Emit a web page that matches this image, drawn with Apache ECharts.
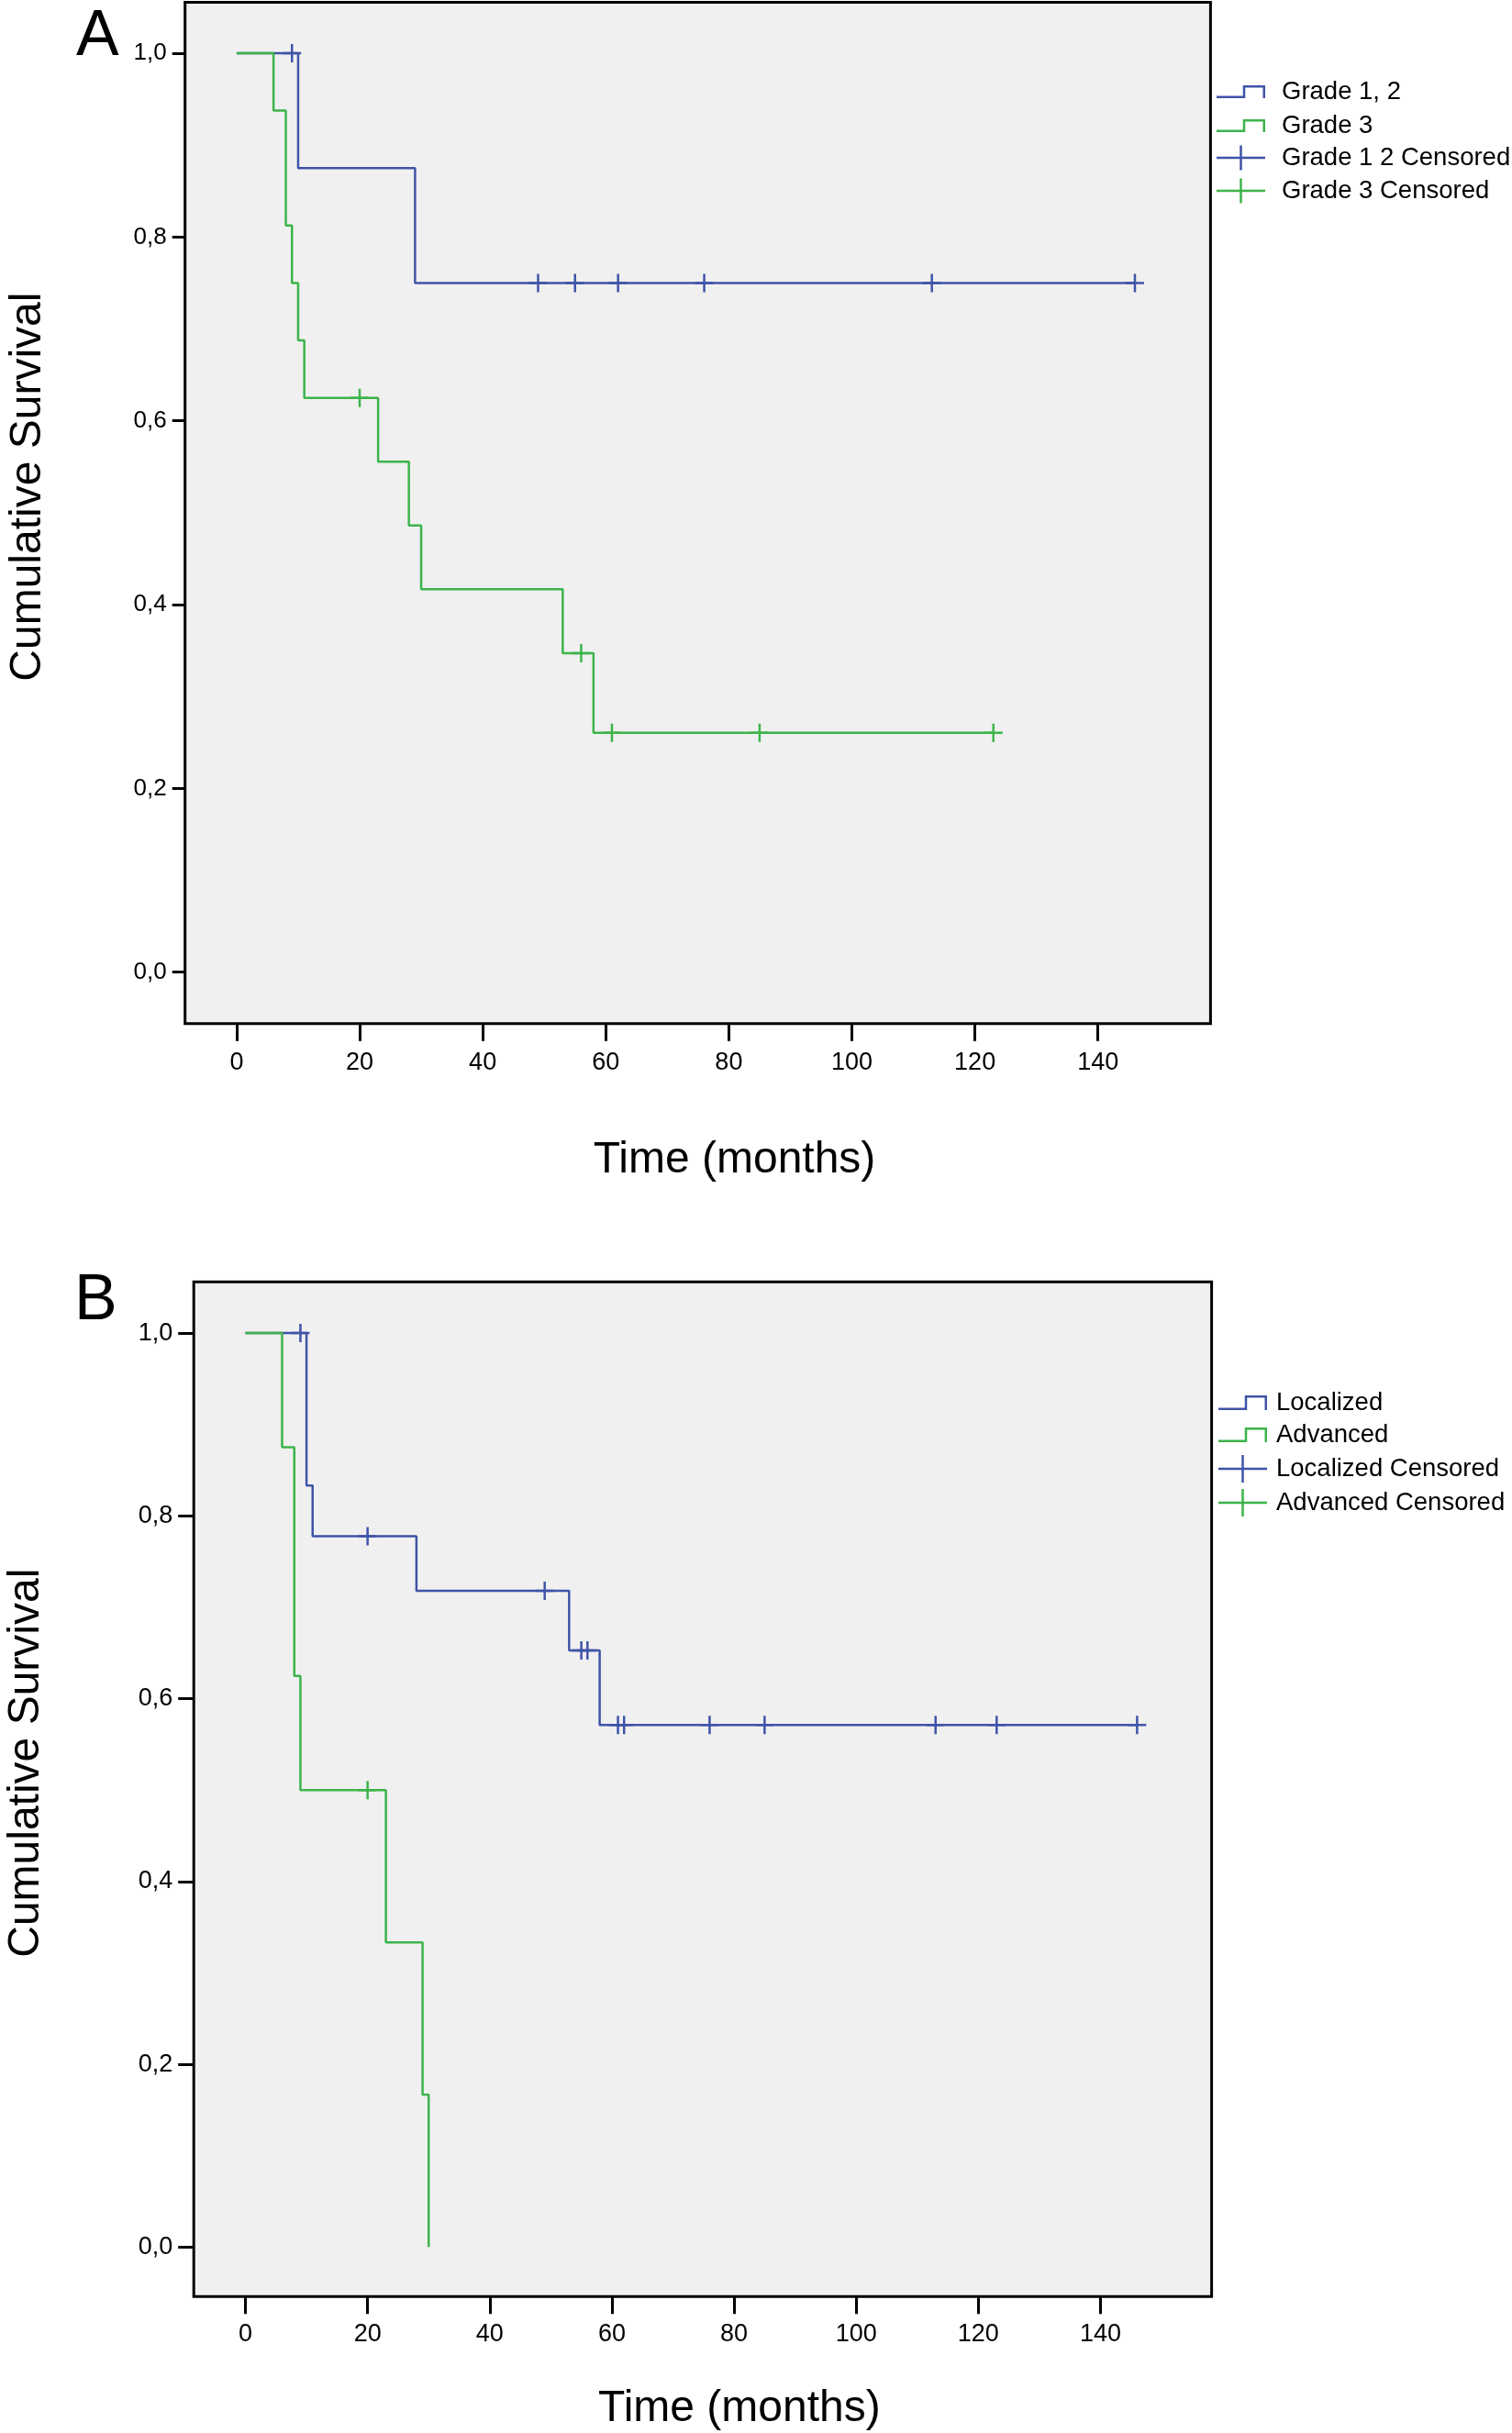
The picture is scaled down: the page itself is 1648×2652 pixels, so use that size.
<!DOCTYPE html>
<html>
<head>
<meta charset="utf-8">
<script src="https://cdn.jsdelivr.net/npm/echarts@6/dist/echarts.min.js"></script>
<style>
html,body{margin:0;padding:0;background:#fff;}
#chart{width:1648px;height:2652px;}
</style>
</head>
<body>
<div id="chart"></div>
<script>
// ---------- data ----------
const xTicks = [0, 20, 40, 60, 80, 100, 120, 140];
const yTicks = [0, 0.2, 0.4, 0.6, 0.8, 1.0];

// Panel A - Grade 1, 2
const g12Time = [0, 10, 29, 146];
const g12Surv = [1.0, 0.875, 0.75, 0.75];
const g12CensTime = [9, 49, 55, 62, 76, 113, 146];
const g12CensSurv = [1.0, 0.75, 0.75, 0.75, 0.75, 0.75, 0.75];
// Panel A - Grade 3
const g3Time = [0, 6, 8, 9, 10, 11, 23, 28, 30, 53, 58, 123];
const g3Surv = [1.0, 0.9375, 0.8125, 0.75, 0.6875, 0.625, 0.5556, 0.4861, 0.4167, 0.3472, 0.2604, 0.2604];
const g3CensTime = [20, 56, 61, 85, 123];
const g3CensSurv = [0.625, 0.3472, 0.2604, 0.2604, 0.2604];

// Panel B - Localized
const locTime = [0, 10, 11, 28, 53, 58, 146];
const locSurv = [1.0, 0.8333, 0.7778, 0.7179, 0.6527, 0.5711, 0.5711];
const locCensTime = [9, 20, 49, 55, 56, 61, 62, 76, 85, 113, 123, 146];
const locCensSurv = [1.0, 0.7778, 0.7179, 0.6527, 0.6527, 0.5711, 0.5711, 0.5711, 0.5711, 0.5711, 0.5711, 0.5711];
// Panel B - Advanced
const advTime = [0, 6, 8, 9, 23, 29, 30];
const advSurv = [1.0, 0.875, 0.625, 0.5, 0.3333, 0.1667, 0.0];
const advCensTime = [20];
const advCensSurv = [0.5];

// ---------- styling ----------
const BLUE = '#3F54A8';
const GREEN = '#3CB44A';
const FONT = '"Liberation Sans", Arial, Helvetica, sans-serif';
const PLUS = 'path://M0,8.75H20V11.25H0Z M8.75,0H11.25V20H8.75Z';
const CROSS_A = 'path://M0,12.25H53V14.75H0Z M25.25,0H27.75V27H25.25Z';
const CROSS_B = 'path://M0,13.75H53V16.25H0Z M25.25,0H27.75V30H25.25Z';
const STEP_A = 'path://M0,11.5H28.75V0H53V14H50.5V2.5H31.25V14H0Z';
const STEP_B = 'path://M0,13.5H28.75V0H53V16H50.5V2.5H31.25V16H0Z';

const zip = (a, b) => a.map((v, i) => [v, b[i]]);
const fmtY = v => v.toFixed(1).replace('.', ',');

function xAxisCfg(idx, o) {
  return {
    gridIndex: idx, type: 'value', min: o.min, max: o.max,
    axisLine: { show: false, onZero: false },
    axisTick: { show: true, inside: false, length: o.tickLen, customValues: xTicks,
                lineStyle: { color: '#000', width: 3 } },
    axisLabel: { show: true, customValues: xTicks, fontSize: 27, color: '#000',
                 fontFamily: FONT, margin: o.labelMargin },
    splitLine: { show: false },
    name: 'Time (months)', nameLocation: 'middle', nameGap: o.nameGap, nameMoveOverlap: false,
    nameTextStyle: { fontSize: 48, lineHeight: 48, color: '#000', fontFamily: FONT,
                     padding: [0, 0, 0, 80] }
  };
}
function yAxisCfg(idx, o) {
  return {
    gridIndex: idx, type: 'value', min: o.min, max: o.max,
    axisLine: { show: false, onZero: false },
    axisTick: { show: true, inside: false, length: o.tickLen, customValues: yTicks,
                lineStyle: { color: '#000', width: 3 } },
    axisLabel: { show: true, customValues: yTicks, formatter: fmtY, fontSize: o.labelSize,
                 color: '#000', fontFamily: FONT, margin: o.labelMargin },
    splitLine: { show: false },
    name: 'Cumulative Survival', nameLocation: 'middle', nameGap: o.nameGap, nameMoveOverlap: false,
    nameTextStyle: { fontSize: 48, lineHeight: 48, color: '#000', fontFamily: FONT,
                     padding: [0, 0, 0, 57] }
  };
}
function lineSeries(name, idx, t, s, color) {
  return {
    name, type: 'line', xAxisIndex: idx, yAxisIndex: idx, step: 'end',
    data: zip(t, s), symbol: 'none', showSymbol: false, silent: true,
    lineStyle: { color, width: 2.5 }, itemStyle: { color }, emphasis: { disabled: true }
  };
}
function censSeries(name, idx, t, s, color) {
  return {
    name, type: 'scatter', xAxisIndex: idx, yAxisIndex: idx,
    data: zip(t, s), symbol: PLUS, symbolSize: 20, silent: true,
    itemStyle: { color, opacity: 1 }, emphasis: { disabled: true }
  };
}
function legendCfg(items, o) {
  return {
    orient: 'vertical', left: o.left, top: o.top, padding: 0,
    itemWidth: 53, itemHeight: o.itemHeight, itemGap: o.gap, selectedMode: false,
    textStyle: { fontSize: 27.5, lineHeight: 30, color: '#000', fontFamily: FONT,
                 padding: [0, 0, 0, o.textPad] },
    data: items.map(it => ({ name: it[0], icon: it[1],
                             itemStyle: { color: it[2], borderWidth: 0, opacity: 1 } }))
  };
}

const chart = echarts.init(document.getElementById('chart'), null, { renderer: 'canvas' });
chart.setOption({
  animation: false,
  backgroundColor: '#ffffff',
  grid: [
    { left: 201.7, top: 2.5, width: 1117.7, height: 1113.2, show: true,
      backgroundColor: '#f0f0f0', borderColor: '#000', borderWidth: 3,
      containLabel: false, outerBoundsMode: 'none' },
    { left: 211.2, top: 1397.2, width: 1109.4, height: 1106, show: true,
      backgroundColor: '#f0f0f0', borderColor: '#000', borderWidth: 3,
      containLabel: false, outerBoundsMode: 'none' }
  ],
  xAxis: [
    xAxisCfg(0, { min: -8.38, max: 158.29, tickLen: 19, labelMargin: 29, nameGap: 125 }),
    xAxisCfg(1, { min: -8.46, max: 158.2, tickLen: 19, labelMargin: 28, nameGap: 99 })
  ],
  yAxis: [
    yAxisCfg(0, { min: -0.0559, max: 1.0554, tickLen: 14, labelSize: 26, labelMargin: 20, nameGap: 147 }),
    yAxisCfg(1, { min: -0.0541, max: 1.0561, tickLen: 17, labelSize: 27, labelMargin: 23, nameGap: 158.5 })
  ],
  legend: [
    legendCfg([['Grade 1, 2', STEP_A, BLUE], ['Grade 3', STEP_A, GREEN]],
              { left: 1326, top: 85, itemHeight: 14, gap: 7, textPad: 13 }),
    legendCfg([['Grade 1 2 Censored', CROSS_A, BLUE], ['Grade 3 Censored', CROSS_A, GREEN]],
              { left: 1326, top: 157, itemHeight: 27, gap: 6, textPad: 13 }),
    legendCfg([['Localized', STEP_B, BLUE], ['Advanced', STEP_B, GREEN]],
              { left: 1328, top: 1514, itemHeight: 16, gap: 5, textPad: 5 }),
    legendCfg([['Localized Censored', CROSS_B, BLUE], ['Advanced Censored', CROSS_B, GREEN]],
              { left: 1328, top: 1586, itemHeight: 30, gap: 7, textPad: 5 })
  ],
  graphic: [
    { type: 'text', x: 83, y: 40.7, silent: true,
      style: { text: 'A', fontSize: 70, fontFamily: FONT, fill: '#000',
               textAlign: 'left', textVerticalAlign: 'middle' } },
    { type: 'text', x: 81, y: 1418.8, silent: true,
      style: { text: 'B', fontSize: 70, fontFamily: FONT, fill: '#000',
               textAlign: 'left', textVerticalAlign: 'middle' } }
  ],
  series: [
    lineSeries('Grade 1, 2', 0, g12Time, g12Surv, BLUE),
    censSeries('Grade 1 2 Censored', 0, g12CensTime, g12CensSurv, BLUE),
    lineSeries('Grade 3', 0, g3Time, g3Surv, GREEN),
    censSeries('Grade 3 Censored', 0, g3CensTime, g3CensSurv, GREEN),
    lineSeries('Localized', 1, locTime, locSurv, BLUE),
    censSeries('Localized Censored', 1, locCensTime, locCensSurv, BLUE),
    lineSeries('Advanced', 1, advTime, advSurv, GREEN),
    censSeries('Advanced Censored', 1, advCensTime, advCensSurv, GREEN)
  ]
});
</script>
</body>
</html>
